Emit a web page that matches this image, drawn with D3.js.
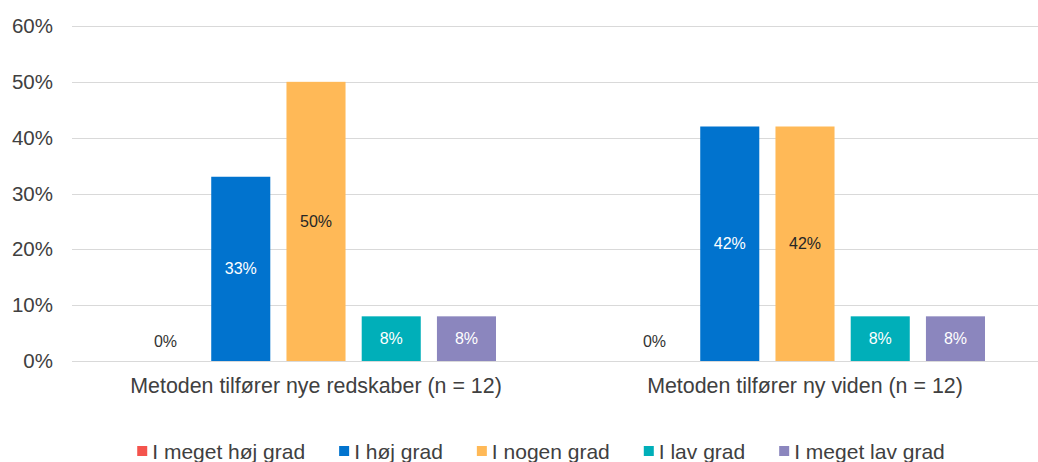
<!DOCTYPE html>
<html>
<head>
<meta charset="utf-8">
<script src="https://cdn.jsdelivr.net/npm/d3@7"></script>
<style>
  html, body { margin: 0; padding: 0; background: #fff; }
  svg { display: block; }
  text { font-family: "Liberation Sans", Arial, sans-serif; }
</style>
</head>
<body>
<svg id="chart" width="1038" height="462"></svg>
<script>
const categories = ["Metoden tilfører nye redskaber (n = 12)", "Metoden tilfører ny viden (n = 12)"];
const seriesNames = ["I meget høj grad", "I høj grad", "I nogen grad", "I lav grad", "I meget lav grad"];
const seriesColors = ["#F4544D", "#0173CE", "#FFB957", "#00AFB9", "#8B86BE"];
const labelColors = ["#333333", "#ffffff", "#262626", "#ffffff", "#ffffff"];
const values = [
  [0.00, 0.33, 0.50, 0.08, 0.08],
  [0.00, 0.42, 0.42, 0.08, 0.08]
];
const yTicks = [0, 0.1, 0.2, 0.3, 0.4, 0.5, 0.6];

const W = 1038, H = 462;
const svg = d3.select("#chart");

const y = d3.scaleLinear().domain([0, 0.6]).range([361, 26]);
const x0 = d3.scaleBand().domain(categories).range([72, 1050]).padding(0);
const x1 = d3.scaleBand().domain(seriesNames).range([64, 424]).paddingInner(0.215).paddingOuter(0);
const pct = d3.format(".0%");

// y axis labels
const yAxis = d3.axisLeft(y).tickValues(yTicks).tickFormat(pct).tickSize(0).tickPadding(0);
const gy = svg.append("g").attr("transform", "translate(53,0)").call(yAxis);
gy.select(".domain").remove();
gy.selectAll("text").attr("font-size", 20.5).attr("fill", "#404040").attr("font-family", "Liberation Sans, Arial, sans-serif");

// gridlines
svg.append("g").selectAll("line").data(yTicks).join("line")
  .attr("x1", 72).attr("x2", W)
  .attr("y1", d => Math.round(y(d)) + 0.5).attr("y2", d => Math.round(y(d)) + 0.5)
  .attr("stroke", "#D9D9D9").attr("stroke-width", 1);

// bars
const groups = svg.append("g").selectAll("g").data(categories).join("g")
  .attr("transform", d => `translate(${x0(d)},0)`);

groups.each(function(cat, ci) {
  const g = d3.select(this);
  const data = seriesNames.map((s, si) => ({ s, si, v: values[ci][si] }));
  g.selectAll("rect").data(data).join("rect")
    .attr("x", d => x1(d.s))
    .attr("width", x1.bandwidth())
    .attr("y", d => y(d.v))
    .attr("height", d => y(0) - y(d.v))
    .attr("fill", d => seriesColors[d.si]);
  g.selectAll("text.val").data(data).join("text")
    .attr("class", "val")
    .attr("x", d => x1(d.s) + x1.bandwidth() / 2)
    .attr("y", d => Math.min((y(d.v) + y(0)) / 2, y(0) - 20))
    .attr("text-anchor", "middle")
    .attr("dominant-baseline", "central")
    .attr("font-size", 16)
    .attr("fill", d => labelColors[d.si])
    .text(d => pct(d.v));
});

// category labels
svg.append("g").selectAll("text").data(categories).join("text")
  .attr("x", d => x0(d) + (x1.range()[0] + x1.range()[1]) / 2)
  .attr("y", 386)
  .attr("text-anchor", "middle")
  .attr("dominant-baseline", "central")
  .attr("font-size", 21.4)
  .attr("fill", "#404040")
  .text(d => d);

// legend
const legend = svg.append("g");
const items = legend.selectAll("g").data(seriesNames).join("g");
items.append("rect").attr("width", 10).attr("height", 10).attr("y", 446)
  .attr("fill", (d, i) => seriesColors[i]);
items.append("text").attr("x", 15).attr("y", 451)
  .attr("dominant-baseline", "central")
  .attr("font-size", 21).attr("fill", "#404040").text(d => d);
let widths = [];
items.each(function() { widths.push(d3.select(this).select("text").node().getComputedTextLength() + 15); });
const gap = 34;
const total = d3.sum(widths) + gap * (widths.length - 1);
let cx = 541 - total / 2;
items.each(function(d, i) {
  d3.select(this).attr("transform", `translate(${cx},0)`);
  d3.select(this).select("rect").attr("x", 0);
  cx += widths[i] + gap;
});
</script>
</body>
</html>
